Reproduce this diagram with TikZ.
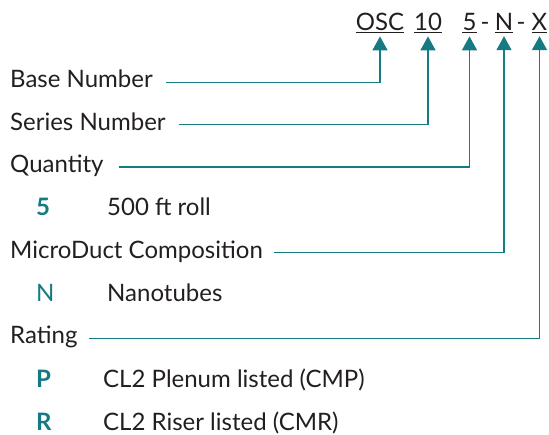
\documentclass[tikz,border=0pt]{standalone}
\usepackage{fontspec}
\setmainfont{Lato}
\usetikzlibrary{arrows.meta}
\definecolor{teal1}{RGB}{22,122,130}
\definecolor{ink}{RGB}{35,31,32}
\tikzset{
  lbl/.style={anchor=base west, inner sep=0pt, text=ink, font=\fontsize{24}{24}\selectfont},
  code/.style={anchor=base, inner sep=0pt, text=ink, font=\fontsize{24}{24}\selectfont},
  key/.style={anchor=base west, inner sep=0pt, text=teal1, font=\fontsize{24}{24}\selectfont\bfseries},
  keyn/.style={anchor=base west, inner sep=0pt, text=teal1, font=\fontsize{24}{24}\selectfont},
  conn/.style={draw=teal1, line width=1.6pt, -{Triangle[width=15pt,length=14pt]}},
  uline/.style={draw=ink, line width=1pt}
}
\begin{document}
\begin{tikzpicture}[x=1pt,y=-1pt]
\useasboundingbox (0,0) rectangle (549,435);
% code parts
\node[code] (osc) at (380,31) {OSC};
\node[code] (ten) at (428,31) {10};
\node[code] (five) at (469.5,31) {5};
\node[code] (d1) at (485,31) {-};
\node[code] (en) at (504,31) {N};
\node[code] (d2) at (521,31) {-};
\node[code] (ex) at (539.5,31) {X};
\foreach \n in {osc,ten,five,en,ex}{
  \draw[uline] ([yshift=-2pt]\n.base west) -- ([yshift=-2pt]\n.base east);
}
% labels
\node[lbl] (bn) at (10,88) {Base Number};
\node[lbl] (sn) at (10,131) {Series Number};
\node[lbl] (qt) at (10,173) {Quantity};
\node[key] (k5) at (36,216) {5};
\node[lbl] (v5) at (107,216) {500 ft roll};
\node[lbl] (mc) at (10,259) {MicroDuct Composition};
\node[keyn] (kn) at (36,302) {N};
\node[lbl] (vn) at (107,302) {Nanotubes};
\node[lbl] (rt) at (10,344) {Rating};
\node[key] (kp) at (36,388) {P};
\node[lbl] (vp) at (103,388) {CL2 Plenum listed (CMP)};
\node[key] (kr) at (36,431) {R};
\node[lbl] (vr) at (103,431) {CL2 Riser listed (CMR)};
% connectors
\draw[conn] ([xshift=13pt,yshift=5.5pt]bn.base east) -| ([yshift=-5pt]osc.south);
\draw[conn] ([xshift=13pt,yshift=6.5pt]sn.base east) -| ([yshift=-5pt]ten.south);
\draw[conn] ([xshift=15pt,yshift=6pt]qt.base east) -| ([yshift=-5pt]five.south);
\draw[conn] ([xshift=11pt,yshift=6.5pt]mc.base east) -| ([yshift=-5pt]en.south);
\draw[conn] ([xshift=11pt,yshift=5.5pt]rt.base east) -| ([yshift=-5pt]ex.south);
\end{tikzpicture}
\end{document}
